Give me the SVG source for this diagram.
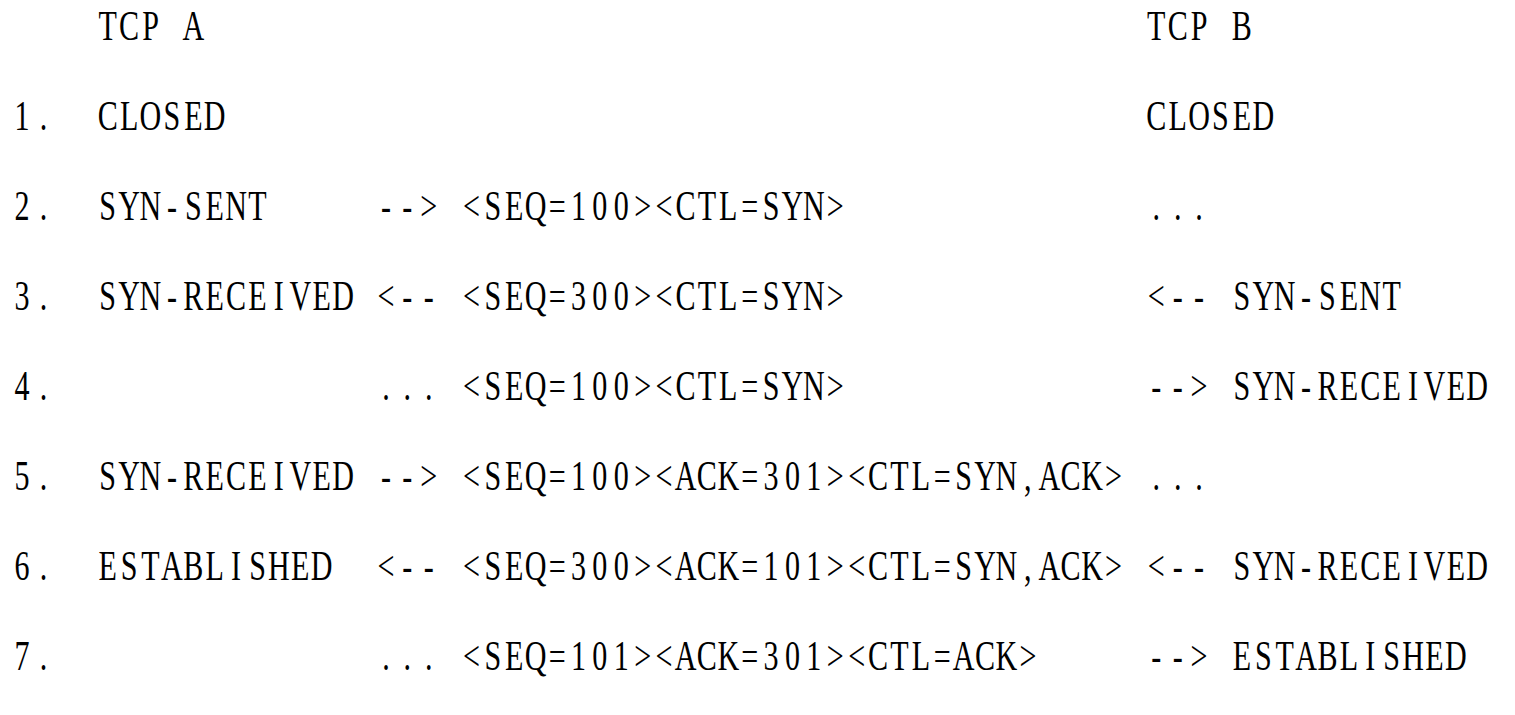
<svg xmlns="http://www.w3.org/2000/svg" width="1515" height="715" viewBox="0 0 1515 715">
<style>
text{font-family:"Liberation Serif","Times New Roman",serif;font-size:43px;fill:#000;text-anchor:middle}
</style>
<rect width="1515" height="715" fill="#fff"/>
<g transform="scale(0.7 1)">
<g id="header">
<text y="40" x="153.9 184.5 215.0">TCP</text>
<text y="40" x="276.2">A</text>
<text y="40" x="1651.8 1682.4 1712.9">TCP</text>
<text y="40" x="1774.1">B</text>
</g>
<g id="row1">
<text y="130" x="31.6 62.2">1.</text>
<text y="130" x="153.9 184.5 215.0 245.6 276.2 306.7">CLOSED</text>
<text y="130" x="1651.8 1682.4 1712.9 1743.5 1774.1 1804.7">CLOSED</text>
</g>
<g id="row2">
<text y="220" x="31.6 62.2">2.</text>
<text y="220" x="153.9 184.5 215.0 245.6 276.2 306.7 337.3 367.9">SYN-SENT</text>
<text y="220" x="1651.8 1682.4 1712.9">...</text>
</g>
<g id="row3">
<text y="310" x="31.6 62.2">3.</text>
<text y="310" x="153.9 184.5 215.0 245.6 276.2 306.7 337.3 367.9 398.4 429.0 459.6 490.2">SYN-RECEIVED</text>
<text y="310" x="1651.8 1682.4 1712.9">&lt;--</text>
<text y="310" x="1774.1 1804.7 1835.2 1865.8 1896.4 1926.9 1957.5 1988.1">SYN-SENT</text>
</g>
<g id="row4">
<text y="400" x="31.6 62.2">4.</text>
<text y="400" x="1651.8 1682.4 1712.9">--&gt;</text>
<text y="400" x="1774.1 1804.7 1835.2 1865.8 1896.4 1926.9 1957.5 1988.1 2018.6 2049.2 2079.8 2110.3">SYN-RECEIVED</text>
</g>
<g id="row5">
<text y="490" x="31.6 62.2">5.</text>
<text y="490" x="153.9 184.5 215.0 245.6 276.2 306.7 337.3 367.9 398.4 429.0 459.6 490.2">SYN-RECEIVED</text>
<text y="490" x="1651.8 1682.4 1712.9">...</text>
</g>
<g id="row6">
<text y="580" x="31.6 62.2">6.</text>
<text y="580" x="153.9 184.5 215.0 245.6 276.2 306.7 337.3 367.9 398.4 429.0 459.6">ESTABLISHED</text>
<text y="580" x="1651.8 1682.4 1712.9">&lt;--</text>
<text y="580" x="1774.1 1804.7 1835.2 1865.8 1896.4 1926.9 1957.5 1988.1 2018.6 2049.2 2079.8 2110.3">SYN-RECEIVED</text>
</g>
<g id="row7">
<text y="670" x="31.6 62.2">7.</text>
<text y="670" x="1651.8 1682.4 1712.9">--&gt;</text>
<text y="670" x="1774.1 1804.7 1835.2 1865.8 1896.4 1926.9 1957.5 1988.1 2018.6 2049.2 2079.8">ESTABLISHED</text>
</g>
<g id="connectors">
<text y="220" x="551.3 581.9 612.4">--&gt;</text>
<text y="220" x="673.6 704.1 734.7 765.3 795.9 826.4 857.0 887.6 918.1 948.7 979.3 1009.8 1040.4 1071.0 1101.6 1132.1 1162.7 1193.3">&lt;SEQ=100&gt;&lt;CTL=SYN&gt;</text>
<text y="310" x="551.3 581.9 612.4">&lt;--</text>
<text y="310" x="673.6 704.1 734.7 765.3 795.9 826.4 857.0 887.6 918.1 948.7 979.3 1009.8 1040.4 1071.0 1101.6 1132.1 1162.7 1193.3">&lt;SEQ=300&gt;&lt;CTL=SYN&gt;</text>
<text y="400" x="551.3 581.9 612.4">...</text>
<text y="400" x="673.6 704.1 734.7 765.3 795.9 826.4 857.0 887.6 918.1 948.7 979.3 1009.8 1040.4 1071.0 1101.6 1132.1 1162.7 1193.3">&lt;SEQ=100&gt;&lt;CTL=SYN&gt;</text>
<text y="490" x="551.3 581.9 612.4">--&gt;</text>
<text y="490" x="673.6 704.1 734.7 765.3 795.9 826.4 857.0 887.6 918.1 948.7 979.3 1009.8 1040.4 1071.0 1101.6 1132.1 1162.7 1193.3 1223.8 1254.4 1285.0 1315.5 1346.1 1376.7 1407.3 1437.8 1468.4 1499.0 1529.5 1560.1 1590.7">&lt;SEQ=100&gt;&lt;ACK=301&gt;&lt;CTL=SYN,ACK&gt;</text>
<text y="580" x="551.3 581.9 612.4">&lt;--</text>
<text y="580" x="673.6 704.1 734.7 765.3 795.9 826.4 857.0 887.6 918.1 948.7 979.3 1009.8 1040.4 1071.0 1101.6 1132.1 1162.7 1193.3 1223.8 1254.4 1285.0 1315.5 1346.1 1376.7 1407.3 1437.8 1468.4 1499.0 1529.5 1560.1 1590.7">&lt;SEQ=300&gt;&lt;ACK=101&gt;&lt;CTL=SYN,ACK&gt;</text>
<text y="670" x="551.3 581.9 612.4">...</text>
<text y="670" x="673.6 704.1 734.7 765.3 795.9 826.4 857.0 887.6 918.1 948.7 979.3 1009.8 1040.4 1071.0 1101.6 1132.1 1162.7 1193.3 1223.8 1254.4 1285.0 1315.5 1346.1 1376.7 1407.3 1437.8 1468.4">&lt;SEQ=101&gt;&lt;ACK=301&gt;&lt;CTL=ACK&gt;</text>
</g>
</g>
</svg>
